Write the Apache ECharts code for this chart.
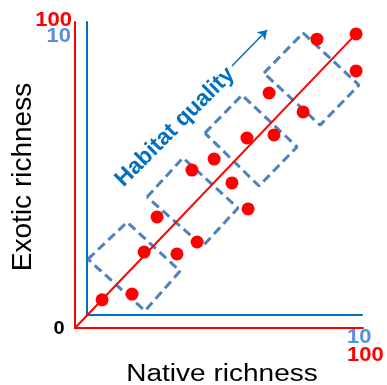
<!DOCTYPE html>
<html>
<head>
<meta charset="utf-8">
<script src="https://cdn.jsdelivr.net/npm/echarts@6/dist/echarts.min.js"></script>
<style>
html,body{margin:0;padding:0;background:#fff;}
#c{width:387px;height:385px;}
</style>
</head>
<body>
<div id="c"></div>
<script>
// ---- data (red axis scale 0-100) ----
const pointsX = [9.4, 19.8, 24.0, 28.5, 35.4, 42.4, 40.6, 48.3, 54.5, 60.1, 59.7, 69.1, 67.4, 79.2, 84.0, 97.6, 97.6];
const pointsY = [9.2, 11.1, 24.8, 36.3, 24.2, 28.1, 51.6, 55.2, 47.4, 38.9, 62.1, 63.1, 76.8, 70.6, 94.4, 96.1, 84.0];
const trendX = [0, 97.6];
const trendY = [0, 96.1];
// habitat boxes: corners (left, top, right, bottom)
const box1X = [4.5, 18.1, 36.5, 24.3];
const box1Y = [22.5, 34.6, 18.6, 5.6];
const box2X = [25.0, 37.5, 56.6, 44.4];
const box2Y = [42.8, 55.6, 39.2, 26.8];
const box3X = [45.1, 58.0, 77.1, 63.9];
const box3Y = [63.7, 76.1, 59.2, 46.4];
const box4X = [65.6, 79.2, 98.6, 85.1];
const box4Y = [83.3, 96.4, 79.4, 66.3];
const arrowX = [54.5, 66.7];
const arrowY = [85.6, 97.4];
// tick labels
const redTicks = ['0', '100'];
const blueTicks = ['0', '10'];
const xTitle = 'Native richness';
const yTitle = 'Exotic richness';
const arrowLabel = 'Habitat quality';

const FONT = "'Liberation Sans', Arial, sans-serif";
const RED = '#ff0000';
const BLUE = '#0070c0';
const LBLUE = '#5b8fd6';
const BOXC = '#4f81bd';

const chart = echarts.init(document.getElementById('c'), null, {renderer: 'canvas'});

function boxSeries(xs, ys) {
  const d = xs.map((x, i) => [x, ys[i]]);
  d.push([xs[0], ys[0]]);
  return {
    type: 'line', xAxisIndex: 0, yAxisIndex: 0, data: d, symbol: 'none', silent: true,
    lineStyle: {color: BOXC, width: 3, type: [9, 5]}, z: 3
  };
}

const hiddenAxis = {
  type: 'value', axisTick: {show: false}, axisLabel: {show: false}, splitLine: {show: false}
};

const option = {
  animation: false,
  backgroundColor: '#fff',
  grid: [
    {left: 75, top: 22, width: 288, height: 306},
    {left: 87, top: 22, width: 275, height: 293}
  ],
  xAxis: [
    Object.assign({}, hiddenAxis, {gridIndex: 0, min: 0, max: 100, axisLine: {show: true, onZero: false, lineStyle: {color: RED, width: 2}}}),
    Object.assign({}, hiddenAxis, {gridIndex: 1, min: 0, max: 10, axisLine: {show: true, onZero: false, lineStyle: {color: BLUE, width: 2}}})
  ],
  yAxis: [
    Object.assign({}, hiddenAxis, {gridIndex: 0, min: 0, max: 100, axisLine: {show: true, onZero: false, lineStyle: {color: RED, width: 2}}}),
    Object.assign({}, hiddenAxis, {gridIndex: 1, min: 0, max: 10, axisLine: {show: true, onZero: false, lineStyle: {color: BLUE, width: 2}}})
  ],
  series: [
    boxSeries(box1X, box1Y),
    boxSeries(box2X, box2Y),
    boxSeries(box3X, box3Y),
    boxSeries(box4X, box4Y),
    {
      type: 'line', xAxisIndex: 0, yAxisIndex: 0, symbol: 'none', silent: true, z: 4,
      data: trendX.map((x, i) => [x, trendY[i]]),
      lineStyle: {color: RED, width: 2}
    },
    {
      type: 'scatter', xAxisIndex: 0, yAxisIndex: 0, symbolSize: 13, z: 5,
      data: pointsX.map((x, i) => [x, pointsY[i]]),
      itemStyle: {color: RED, opacity: 1}
    },
    {
      type: 'line', xAxisIndex: 0, yAxisIndex: 0, data: [], silent: true,
      markLine: {
        silent: true, animation: false,
        symbol: ['none', 'arrow'], symbolSize: 9,
        label: {show: false},
        lineStyle: {color: BLUE, width: 1.5, type: 'solid'},
        data: [[{coord: [arrowX[0], arrowY[0]]}, {coord: [arrowX[1], arrowY[1]]}]]
      }
    }
  ],
  graphic: [
    {type: 'text', x: 72, y: 21, scaleY: 0.9, style: {text: redTicks[1], fill: RED, font: 'bold 22px ' + FONT, textAlign: 'right', textVerticalAlign: 'middle'}},
    {type: 'text', x: 71, y: 37, scaleY: 0.9, style: {text: blueTicks[1], fill: LBLUE, font: 'bold 22px ' + FONT, textAlign: 'right', textVerticalAlign: 'middle'}},
    {type: 'text', x: 59, y: 329, scaleY: 0.9, style: {text: redTicks[0], fill: '#000', font: 'bold 20px ' + FONT, textAlign: 'center', textVerticalAlign: 'middle'}},
    {type: 'text', x: 347, y: 338, scaleY: 0.9, style: {text: blueTicks[1], fill: LBLUE, font: 'bold 22px ' + FONT, textAlign: 'left', textVerticalAlign: 'middle'}},
    {type: 'text', x: 347, y: 356, scaleY: 0.9, style: {text: redTicks[1], fill: RED, font: 'bold 22px ' + FONT, textAlign: 'left', textVerticalAlign: 'middle'}},
    {type: 'text', x: 23, y: 177, rotation: Math.PI / 2, style: {text: yTitle, fill: '#000', font: '28px ' + FONT, textAlign: 'center', textVerticalAlign: 'middle'}},
    {type: 'text', x: 222, y: 374, scaleY: 0.86, style: {text: xTitle, fill: '#000', font: '28px ' + FONT, textAlign: 'center', textVerticalAlign: 'middle'}},
    {type: 'text', x: 175, y: 127, rotation: Math.PI / 4, style: {text: arrowLabel, fill: BLUE, font: 'bold 23px ' + FONT, textAlign: 'center', textVerticalAlign: 'middle'}}
  ]
};
chart.setOption(option);
</script>
</body>
</html>
